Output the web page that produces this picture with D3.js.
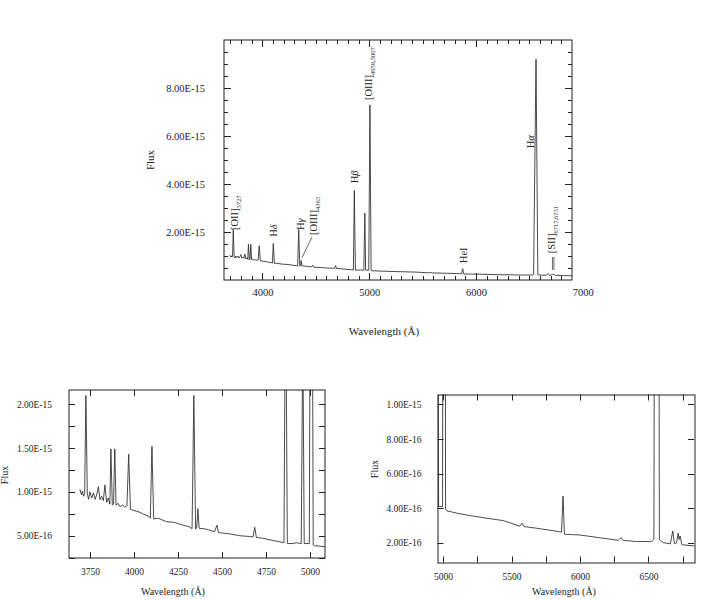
<!DOCTYPE html>
<html lang="en">
<head>
<meta charset="UTF-8">
<title>Spectrum</title>
<script src="https://cdn.jsdelivr.net/npm/d3@7"></script>
<style>
    body { margin: 0; background: #fff; }
    text { font-family: "Liberation Serif", "DejaVu Serif", serif; fill: #222; }
</style>
</head>
<body>
<script>
    // spectrum: wavelength (A) and flux (units of 1e-16)
    var wave = [3693, 3702, 3707, 3714, 3720, 3727, 3735, 3742, 3750, 3760, 3770, 3779, 3788, 3798, 3807,
        3816, 3826, 3835, 3845, 3854, 3863, 3869, 3877, 3884, 3891, 3898, 3910, 3920, 3935, 3948, 3960,
        3970, 3980, 3995, 4023, 4050, 4085, 4093, 4102, 4112, 4136, 4184, 4231, 4278, 4316, 4330, 4340,
        4350, 4357, 4363, 4370, 4410, 4458, 4471, 4480, 4543, 4600, 4657, 4676, 4686, 4695, 4733, 4790,
        4852, 4861, 4871, 4904, 4921, 4950, 4959, 4967, 4996, 5007, 5018, 5025, 5100, 5195, 5300, 5439,
        5560, 5577, 5590, 5683, 5817, 5865, 5876, 5886, 5999, 6170, 6280, 6300, 6315, 6414, 6523, 6540,
        6563, 6580, 6608, 6660, 6678, 6690, 6705, 6717, 6724, 6731, 6745, 6754, 6833, 6900]
    var flux = [10.3, 9.65, 10.1, 9.5, 9.8, 21.0, 9.8, 9.15, 10.0, 9.3, 9.9, 9.15, 9.65, 10.6, 9.1,
        9.5, 9.0, 10.8, 8.8, 9.3, 8.6, 14.9, 8.5, 8.6, 14.9, 8.5, 8.7, 8.3, 8.5, 8.25, 8.4,
        14.3, 8.0, 7.9, 7.75, 7.5, 7.2, 7.0, 15.2, 6.9, 7.0, 6.6, 6.5, 6.2, 6.0, 5.8, 21.0,
        5.75, 6.0, 8.1, 5.85, 5.75, 5.45, 6.2, 5.35, 5.2, 5.0, 4.9, 4.85, 5.95, 4.8, 4.7, 4.45,
        4.2, 37.3, 4.1, 4.1, 4.2, 4.1, 27.9, 4.1, 4.1, 73.0, 3.95, 3.86, 3.72, 3.58, 3.45, 3.29,
        2.97, 3.14, 2.95, 2.85, 2.69, 2.62, 4.71, 2.5, 2.46, 2.27, 2.15, 2.31, 2.15, 2.08, 2.08, 2.2,
        92.0, 2.2, 2.02, 1.95, 2.69, 1.95, 2.0, 2.56, 2.2, 2.4, 1.9, 1.89, 1.83, 1.75]

    // tick labels
    var topXTicks = [4000, 5000, 6000, 7000]
    var topYTicks = [2e-15, 4e-15, 6e-15, 8e-15]
    var leftXTicks = [3750, 4000, 4250, 4500, 4750, 5000]
    var leftYTicks = [5e-16, 1e-15, 1.5e-15, 2e-15]
    var rightXTicks = [5000, 5500, 6000, 6500]
    var rightYTicks = [2e-16, 4e-16, 6e-16, 8e-16, 1e-15]

    // line labels on the top panel: text, subscript, wavelength, flux (1e-15) where the text starts
    var annotText = ['[OII]', 'H|δ', 'H|γ', '[OIII]', 'H|β', '[OIII]', 'H|α', 'HeI', '[SII]']
    var annotSub = ['3727', '', '', '4363', '', '4959,5007', '', '', '6717,6731']
    var annotWave = [3735, 4102, 4350, 4474, 4861, 4989, 6506, 5876, 6705]
    var annotFlux = [2.08, 1.8, 2.08, 1.87, 4.03, 7.5, 5.49, 0.7, 1.11]
    // pointer lines: [wave1, flux1, wave2, flux2] (flux in 1e-15)
    var pointers = [[4464, 1.79, 4370, 0.92], [6717, 0.96, 6717, 0.42], [6731, 0.96, 6731, 0.42]]

    var data = wave.map(function (w, i) { return { w: w, f: flux[i] * 1e-16 } })

    var width = 722,
        height = 599,
        svg = d3.select('body').append('svg')
            .attr('width', width)
            .attr('height', height)

    var panels = [
        { id: 'top', left: 224, right: 572, top: 40, bottom: 280, xDomain: [3640, 6900], yDomain: [0, 1e-14],
          xLabels: topXTicks, yLabels: topYTicks, xMajor: [4000, 5000, 6000], xMinor: d3.range(3700, 6900, 100),
          yMajor: topYTicks, yMinor: d3.range(5e-16, 1e-14, 5e-16), majorLen: 7, minorLen: 4,
          font: 10.5, xPad: 9, yPad: 19, titleX: 384, titleY: 335, fluxX: 154, fluxY: 160 },
        { id: 'left', left: 69, right: 325, top: 390, bottom: 558, xDomain: [3631, 5085], yDomain: [2.45e-16, 2.163e-15],
          xLabels: leftXTicks, yLabels: leftYTicks, xMajor: leftXTicks, xMinor: [],
          yMajor: [2.5e-16, 5e-16, 7.5e-16, 1e-15, 1.25e-15, 1.5e-15, 1.75e-15, 2e-15], yMinor: [], majorLen: 6, minorLen: 3,
          font: 9.5, xPad: 10, yPad: 17, titleX: 173, titleY: 595, fluxX: 8, fluxY: 475 },
        { id: 'right', left: 437.5, right: 694, top: 394.5, bottom: 562.5, xDomain: [4959, 6833], yDomain: [0.87e-16, 1.0575e-15],
          xLabels: rightXTicks, yLabels: rightYTicks, xMajor: [5000, 5250, 5500, 5750, 6000, 6250, 6500, 6750], xMinor: [],
          yMajor: rightYTicks, yMinor: [], majorLen: 6, minorLen: 3,
          font: 9.5, xPad: 11, yPad: 16, titleX: 564, titleY: 595, fluxX: 378, fluxY: 469 }
    ]

    var expFormat = function (v) { return v.toExponential(2).toUpperCase() }
    var crisp = function (v) { return Math.round(v) + 0.5 }

    // inward tick marks on one edge of the frame
    function edgeTicks(parent, scale, values, edge, dir, vertical, len) {
        parent.append('g').selectAll('line')
            .data(values)
            .enter()
            .append('line')
            .attr(vertical ? 'x1' : 'y1', function (d) { return crisp(scale(d)) })
            .attr(vertical ? 'x2' : 'y2', function (d) { return crisp(scale(d)) })
            .attr(vertical ? 'y1' : 'x1', edge)
            .attr(vertical ? 'y2' : 'x2', edge + dir * len)
            .attr('stroke', '#222')
            .attr('stroke-width', 1)
    }

    panels.forEach(function (p) {
        var x = d3.scaleLinear().domain(p.xDomain).range([p.left, p.right]),
            y = d3.scaleLinear().domain(p.yDomain).range([p.bottom, p.top]),
            g = svg.append('g')

        g.append('clipPath').attr('id', 'clip-' + p.id)
            .append('rect')
            .attr('x', p.left).attr('y', p.top)
            .attr('width', p.right - p.left).attr('height', p.bottom - p.top)

        g.append('path')
            .datum(data)
            .attr('clip-path', 'url(#clip-' + p.id + ')')
            .attr('fill', 'none')
            .attr('stroke', '#2a2a2a')
            .attr('stroke-width', 0.85)
            .attr('stroke-linejoin', 'round')
            .attr('d', d3.line().x(function (d) { return x(d.w) }).y(function (d) { return y(d.f) }))

        edgeTicks(g, x, p.xMajor, p.bottom, -1, true, p.majorLen)
        edgeTicks(g, x, p.xMinor, p.bottom, -1, true, p.minorLen)
        edgeTicks(g, x, p.xMajor, p.top, 1, true, p.majorLen)
        edgeTicks(g, x, p.xMinor, p.top, 1, true, p.minorLen)
        edgeTicks(g, y, p.yMajor, p.left, 1, false, p.majorLen)
        edgeTicks(g, y, p.yMinor, p.left, 1, false, p.minorLen)
        edgeTicks(g, y, p.yMajor, p.right, -1, false, p.majorLen)
        edgeTicks(g, y, p.yMinor, p.right, -1, false, p.minorLen)

        // tick labels
        var xl = g.append('g').attr('transform', 'translate(0,' + p.bottom + ')')
            .call(d3.axisBottom(x).tickValues(p.xLabels).tickSize(0).tickPadding(p.xPad).tickFormat(d3.format('d')))
        var yl = g.append('g').attr('transform', 'translate(' + p.left + ',0)')
            .call(d3.axisLeft(y).tickValues(p.yLabels).tickSize(0).tickPadding(p.yPad).tickFormat(expFormat))
        ;[xl, yl].forEach(function (s) {
            s.select('.domain').remove()
            s.attr('font-family', null).attr('font-size', null)
            s.selectAll('text').style('font-size', p.font + 'px')
        })

        g.append('rect')
            .attr('x', crisp(p.left) - 0.5).attr('y', crisp(p.top) - 0.5)
            .attr('width', Math.round(p.right - p.left)).attr('height', Math.round(p.bottom - p.top))
            .attr('fill', 'none').attr('stroke', '#222').attr('stroke-width', 1)

        g.append('text')
            .attr('x', p.titleX).attr('y', p.titleY)
            .style('text-anchor', 'middle')
            .style('font-size', (p.font + 0.5) + 'px')
            .text('Wavelength (Å)')

        g.append('text')
            .attr('transform', 'translate(' + p.fluxX + ',' + p.fluxY + ') rotate(-90)')
            .style('text-anchor', 'middle')
            .style('font-size', (p.font + 0.5) + 'px')
            .text('Flux')

        if (p.id === 'top') {
            annotText.forEach(function (t, i) {
                var parts = t.split('|'),
                    txt = g.append('text')
                        .attr('transform', 'translate(' + (x(annotWave[i]) + 4) + ',' + y(annotFlux[i] * 1e-15) + ') rotate(-90)')
                        .style('font-size', '10.5px')
                txt.append('tspan').text(parts[0])
                if (parts[1]) txt.append('tspan').style('font-style', 'italic').text(parts[1])
                if (annotSub[i]) txt.append('tspan').attr('dy', 3).style('font-size', '6.5px').text(annotSub[i])
            })
            pointers.forEach(function (q) {
                g.append('line')
                    .attr('x1', x(q[0])).attr('y1', y(q[1] * 1e-15))
                    .attr('x2', x(q[2])).attr('y2', y(q[3] * 1e-15))
                    .attr('stroke', '#444').attr('stroke-width', 0.8)
            })
        }
    })
</script>
</body>
</html>
